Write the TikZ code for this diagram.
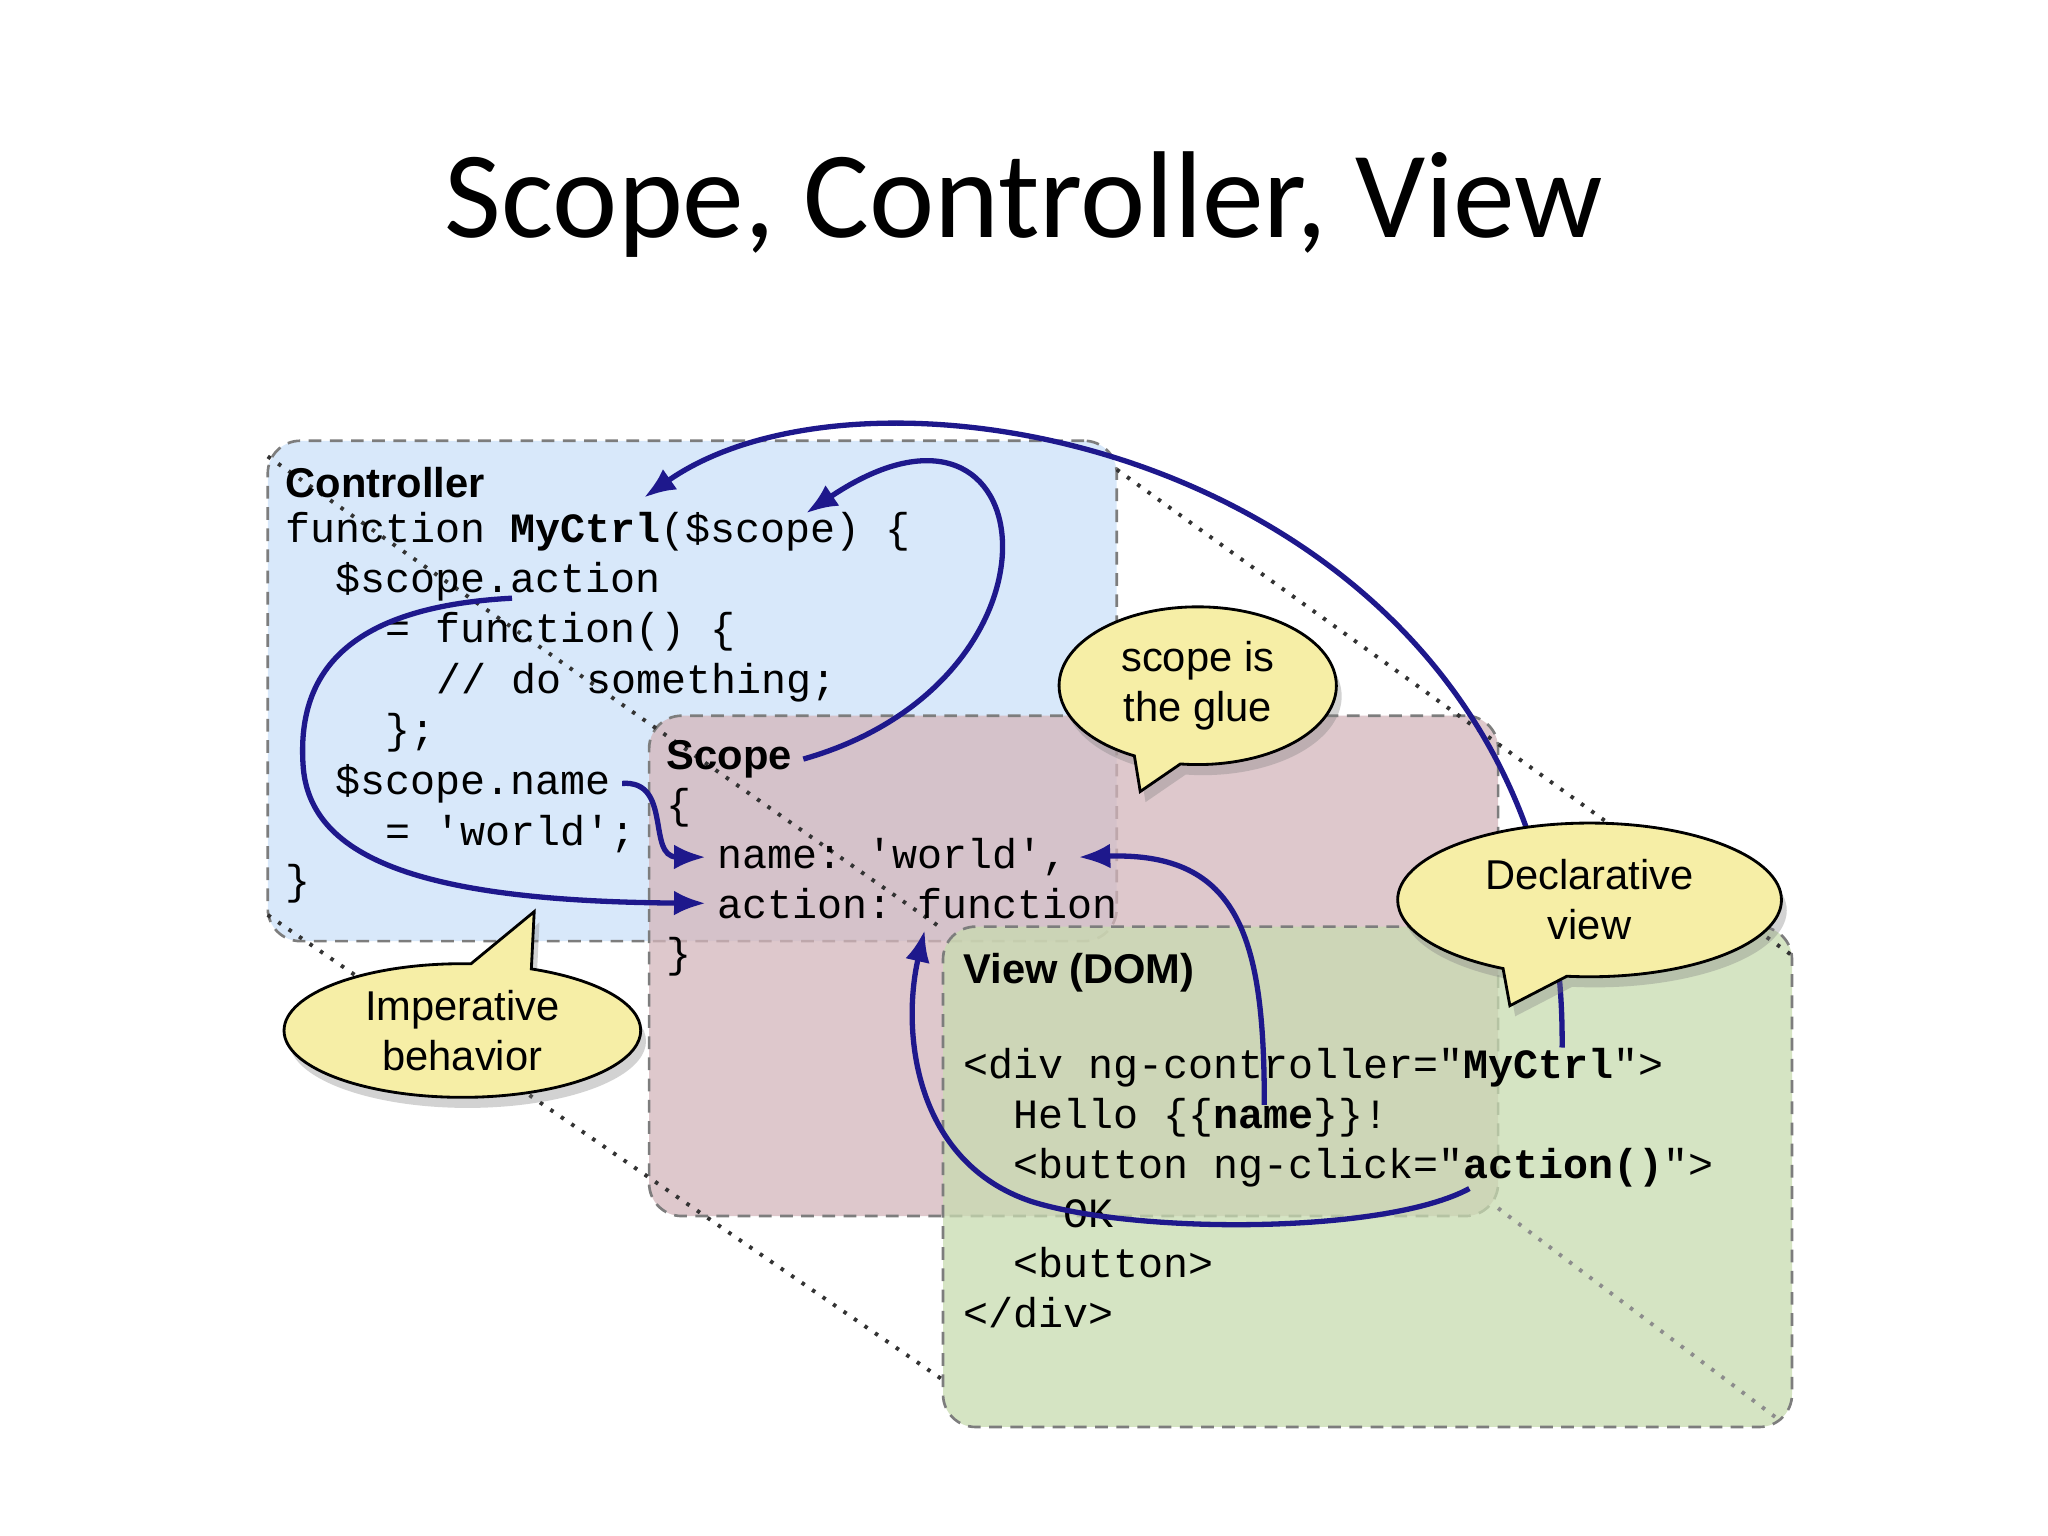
\documentclass[tikz,border=0pt]{standalone}
\usepackage{fontspec}
\setmainfont{Liberation Sans}
\setmonofont{Liberation Mono}
\newfontfamily\slidefont{Carlito}
\usetikzlibrary{arrows.meta,calc,shapes.callouts,shadows}

\definecolor{ctrlblue}{RGB}{216,232,250}
\definecolor{scopepink}{RGB}{212,182,187}
\definecolor{viewgreen}{RGB}{200,219,176}
\definecolor{bubbleyellow}{RGB}{246,238,166}
\definecolor{linknavy}{RGB}{30,24,140}
\definecolor{framegray}{RGB}{125,125,125}

\begin{document}
\begin{tikzpicture}[x=0.13mm, y=-0.13mm, >={Latex[length=9pt,width=7pt]},
    panel/.style={draw=framegray, line width=0.75pt, dash pattern=on 3.6pt off 2.4pt,
      rounded corners=3.25mm, minimum width=84.5mm, minimum height=49.8mm,
      inner sep=0pt, outer sep=0pt},
    codeline/.style={anchor=base west, inner sep=3pt, font=\ttfamily\fontsize{11.8}{14}\selectfont},
    boxtitle/.style={anchor=base west, inner sep=3pt, font=\bfseries\fontsize{11.8}{14}\selectfont},
    bubble/.style={ellipse callout, draw=black, line width=0.8pt, fill=bubbleyellow,
      align=center, inner sep=0pt, callout pointer arc=20,
      font=\fontsize{11.8}{14.2}\selectfont,
      drop shadow={shadow xshift=1.5pt, shadow yshift=-3pt, opacity=0.35}},
    link/.style={->, draw=linknavy, line width=1.5pt},
    guide/.style={draw=black!80, line width=1.1pt, dash pattern=on 1pt off 2.6pt}]
    \useasboundingbox (0,0) rectangle (1568,1176);
    \fill[white] (0,0) rectangle (1568,1176);

    \node[font=\slidefont\fontsize{35}{42}\selectfont, anchor=base] (title) at (784,182) {Scope, Controller, View};

    % the three layers
    \node[panel, fill=ctrlblue] (ctrl) at (530,529) {};
    \node[panel, fill=scopepink, fill opacity=0.75] (scope) at (822,739.5) {};
    \node[panel, fill=viewgreen, fill opacity=0.75] (view) at (1047,901) {};

    % perspective lines
    \draw[guide] ($(ctrl.north west)+(0,12)$) -- ($(view.north west)+(0,2)$);
    \draw[guide] ($(ctrl.north east)+(0,22)$) -- ($(view.north east)+(0,22)$);
    \draw[guide] ($(ctrl.south west)+(0,-20)$) -- ($(view.south west)+(0,-36)$);
    \draw[guide, draw=black!45] ($(scope.south east)+(0,-6)$) -- ($(view.south east)+(-8,-4)$);

    % controller
    \node[boxtitle] (clabel) at (210,381) {Controller};
    \node[codeline] (c1) at (210,415) {function \textbf{MyCtrl}(\$scope) \{};
    \node[codeline] (c2) at (248.4,454) {\$scope.action};
    \node[codeline] (c3) at (286.8,492) {= function() \{};
    \node[codeline] (c4) at (325.2,531) {// do something;};
    \node[codeline] (c5) at (286.8,569) {\};};
    \node[codeline] (c6) at (248.4,608) {\$scope.name};
    \node[codeline] (c7) at (286.8,647) {= 'world';};
    \node[codeline] (c8) at (210,685) {\}};

    % scope
    \node[boxtitle] (slabel) at (502,589) {Scope};
    \node[codeline] (s1) at (502,627) {\{};
    \node[codeline] (sname) at (540.4,665) {name: 'world',};
    \node[codeline] (saction) at (540.4,703) {action: function};
    \node[codeline] (s4) at (502,741) {\}};

    % view
    \node[boxtitle] (vlabel) at (729,753) {View (DOM)};
    \node[codeline] (v1) at (729,826) {<div ng-controller="\textbf{MyCtrl}">};
    \node[codeline] (v2) at (767.4,864) {Hello \{\{\textbf{name}\}\}!};
    \node[codeline] (v3) at (767.4,902) {<button ng-click="\textbf{action()}">};
    \node[codeline] (v4) at (805.8,940) {OK};
    \node[codeline] (v5) at (767.4,978) {<button>};
    \node[codeline] (v6) at (729,1016) {</div>};

    % bindings
    \coordinate (ctrlname) at (493,381);
    \coordinate (ctrlscope) at (617,393);
    \coordinate (ctrlaction) at (392,458);
    \coordinate (dommyctrl) at (1196,802);
    \coordinate (domname) at (968,846);
    \coordinate (domaction) at (1125,910);
    \coordinate (scopefn) at (708,712);

    \draw[link] (dommyctrl) .. controls (1200,360) and (680,250) .. (ctrlname);
    \draw[link] (slabel.east) .. controls (830,520) and (800,270) .. (ctrlscope);
    \draw[link] (ctrlaction) .. controls (260,465) and (228,520) .. (232,585)
                .. controls (236,660) and (330,690) .. (saction.west);
    \draw[link] (c6.east) .. controls (515,597) and (495,656) .. (sname.west);
    \draw[link] (domname) .. controls (968,720) and (950,652) .. (sname.east);
    \draw[link] (domaction) .. controls (1060,945) and (870,945) .. (790,920)
                .. controls (700,890) and (690,790) .. (scopefn);

    % speech bubbles
    \node[bubble, minimum width=27.6mm, minimum height=15.7mm,
      callout absolute pointer={(873,606)}] (glue) at (917,525) {scope is\\the glue};
    \node[bubble, minimum width=38.2mm, minimum height=15.3mm,
      callout absolute pointer={(1156,770)}] (decl) at (1217,689) {Declarative\\view};
    \node[bubble, minimum width=35.5mm, minimum height=13.3mm,
      callout absolute pointer={(409,698)}] (imp) at (354,789) {Imperative\\behavior};
\end{tikzpicture}
\end{document}
